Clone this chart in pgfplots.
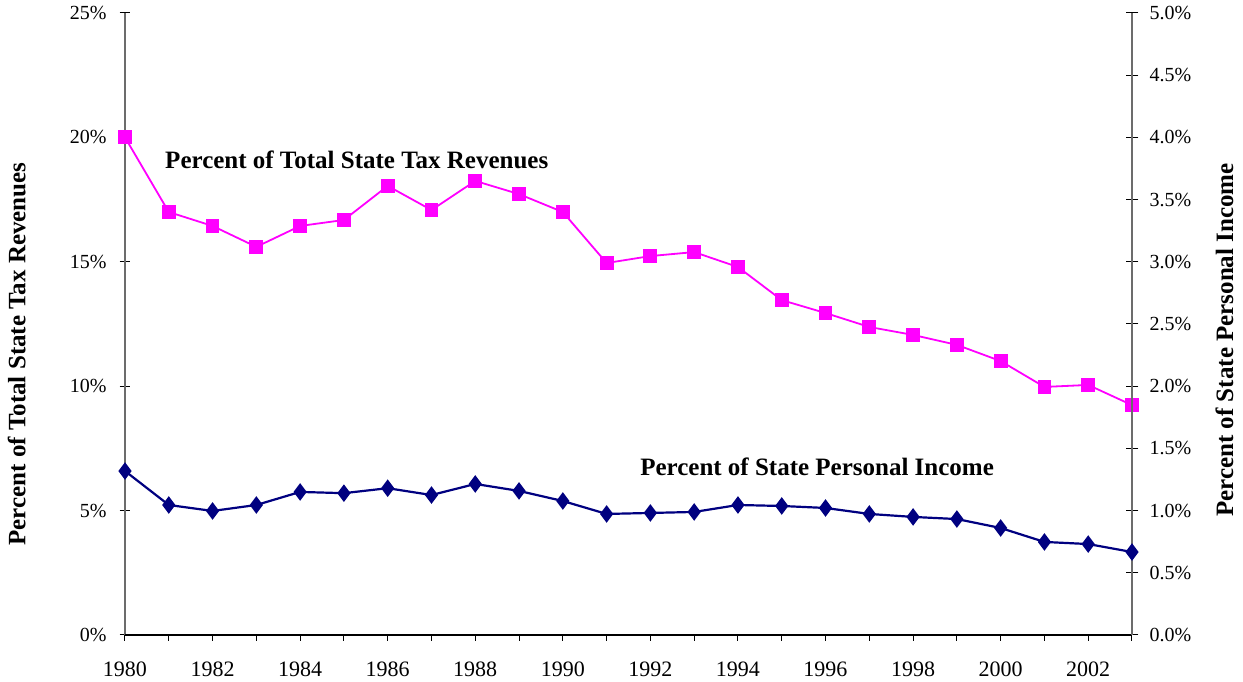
\documentclass[border=0pt]{standalone}
\usepackage{pgfplots}
\pgfplotsset{compat=1.18}
\usepackage{fontspec}
\setmainfont{Liberation Serif}
\definecolor{pinkm}{RGB}{255,0,255}
\definecolor{navyb}{RGB}{0,0,128}
\pgfplotstableread{
year rev
1980 20.00
1981 17.00
1982 16.44
1983 15.60
1984 16.44
1985 16.68
1986 18.05
1987 17.08
1988 18.25
1989 17.72
1990 17.00
1991 14.95
1992 15.23
1993 15.39
1994 14.79
1995 13.46
1996 12.94
1997 12.38
1998 12.06
1999 11.66
2000 11.01
2001 9.97
2002 10.05
2003 9.24
}\revtable
\pgfplotstableread{
year inc
1980 1.318
1981 1.045
1982 0.997
1983 1.045
1984 1.150
1985 1.140
1986 1.180
1987 1.125
1988 1.214
1989 1.158
1990 1.077
1991 0.973
1992 0.981
1993 0.989
1994 1.045
1995 1.037
1996 1.021
1997 0.973
1998 0.949
1999 0.932
2000 0.860
2001 0.748
2002 0.731
2003 0.667
}\inctable
\begin{document}
\begin{tikzpicture}
\pgfplotsset{
  /pgf/number format/assume math mode=true,
  every axis/.append style={scale only axis, width=503.5pt, height=311pt, xmin=1980, xmax=2003, clip=false},
}
% left axis with pink series
\begin{axis}[
  ymin=0, ymax=25,
  axis y line*=left, axis x line*=bottom,
  y axis line style={gray!85!black, line width=0.8pt},
  x axis line style={black, line width=0.6pt},
  xtick=\empty,
  ytick={0,5,10,15,20,25},
  yticklabel={\pgfmathprintnumber{\tick}\%},
  yticklabel style={font=\fontsize{10}{12}\selectfont, xshift=-3pt},
  tick style={black, line width=0.5pt},
  tick align=center,
  major tick length=5.5pt,
  ylabel={\fontsize{12.5}{14}\selectfont\bfseries Percent of Total State Tax Revenues},
  ylabel style={at={(axis description cs:0,0.5)}, anchor=south, inner sep=0pt, yshift=49.5pt, xshift=-15pt},
]
\addplot[pinkm, line width=0.9pt, mark=square*, mark size=3pt, mark options={solid}] table[x=year, y=rev] {\revtable};
\node[anchor=west, font=\fontsize{12.5}{14}\selectfont\bfseries, inner sep=0pt] at (axis cs:1980.91,19.09) {Percent of Total State Tax Revenues};
\node[anchor=west, font=\fontsize{12.5}{14}\selectfont\bfseries, inner sep=0pt] at (axis cs:1991.76,6.75) {Percent of State Personal Income};
\coordinate (bl) at ([xshift=-62.5pt,yshift=-23.5pt]axis description cs:0,0);
\coordinate (tr) at ([xshift=55.5pt,yshift=6.5pt]axis description cs:1,1);
\end{axis}
% x axis ticks and labels
\begin{axis}[
  ymin=0, ymax=25,
  axis y line=none, axis x line*=bottom,
  x axis line style={black, line width=0.6pt},
  xtick={1980,...,2003},
  xticklabels={1980,,1982,,1984,,1986,,1988,,1990,,1992,,1994,,1996,,1998,,2000,,2002,},
  xticklabel style={font=\fontsize{11}{13}\selectfont, yshift=-7pt},
  tick style={black, line width=0.5pt},
  tick align=outside,
  major tick length=3pt,
]
\end{axis}
% right axis with navy series
\begin{axis}[
  ymin=0, ymax=5,
  axis y line*=right, axis x line=none,
  y axis line style={gray!85!black, line width=0.8pt},
  ytick={0,0.5,1,1.5,2,2.5,3,3.5,4,4.5,5},
  yticklabel={\pgfmathprintnumber[fixed,fixed zerofill,precision=1]{\tick}\%},
  yticklabel style={font=\fontsize{10}{12}\selectfont, xshift=2pt},
  tick style={black, line width=0.5pt},
  tick align=center,
  major tick length=6.5pt,
  ylabel={\fontsize{12.5}{14}\selectfont\bfseries Percent of State Personal Income},
  ylabel style={at={(axis description cs:1,0.5)}, anchor=north, inner sep=0pt, yshift=-41.5pt, xshift=-8pt},
]
\addplot[navyb, line width=1.1pt, mark=diamond*, mark size=3.5pt, mark options={solid}] table[x=year, y=inc] {\inctable};
\end{axis}
\pgfresetboundingbox
\path[use as bounding box] (bl) rectangle (tr);
\end{tikzpicture}
\end{document}
